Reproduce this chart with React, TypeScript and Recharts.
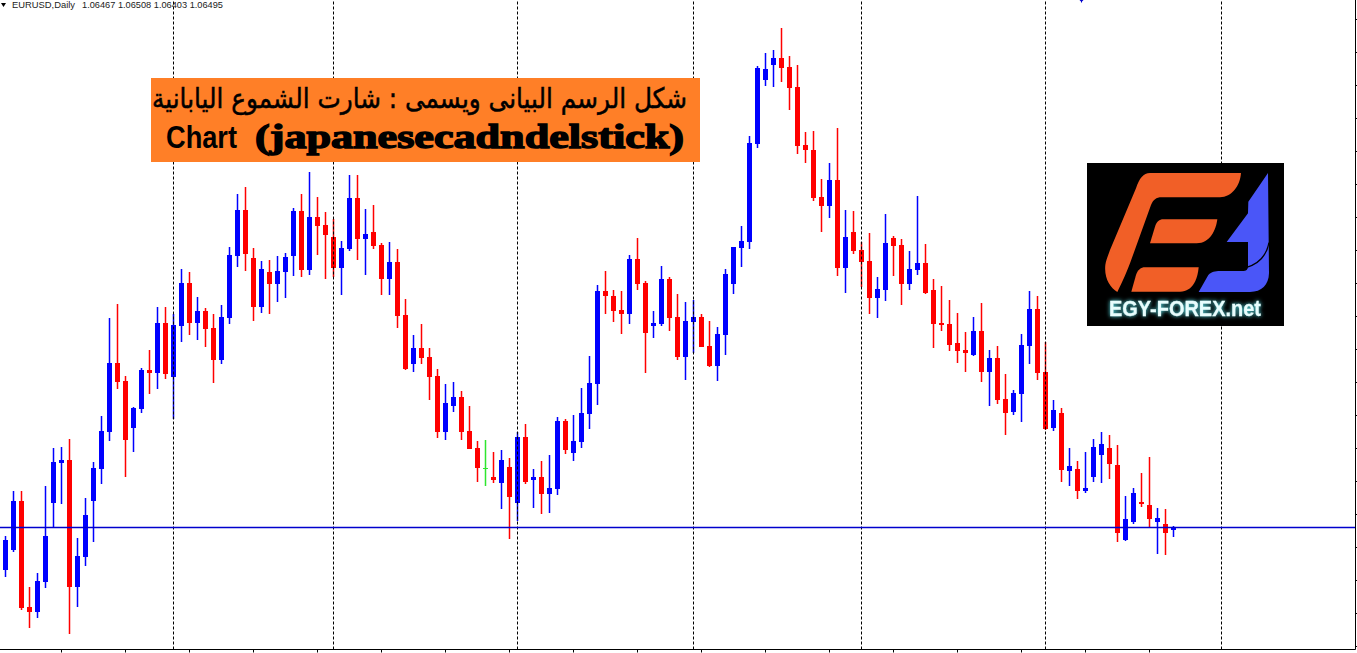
import { ComposedChart, Bar, XAxis, YAxis, ReferenceLine } from "recharts";

const opens = [
  1.0607, 1.0627, 1.0676, 1.0570, 1.0565, 1.0595, 1.0674, 1.0714, 1.0717, 1.0590,
  1.0620, 1.0676, 1.0708, 1.0745, 1.0814, 1.0796, 1.0749, 1.0768, 1.0807, 1.0804,
  1.0854, 1.0800, 1.0851, 1.0894, 1.0854, 1.0866, 1.0849, 1.0817, 1.0859, 1.0921,
  1.0967, 1.0919, 1.0870, 1.0905, 1.0893, 1.0905, 1.0921, 1.0966, 1.0907, 1.0960,
  1.0952, 1.0940, 1.0909, 1.0928, 1.0979, 1.0938, 1.0945, 1.0932, 1.0898, 1.0915,
  1.0862, 1.0813, 1.0829, 1.0820, 1.0801, 1.0745, 1.0771, 1.0780, 1.0746, 1.0729,
  1.0709, 1.0700, 1.0694, 1.0710, 1.0674, 1.0740, 1.0697, 1.0700, 1.0683, 1.0688,
  1.0756, 1.0724, 1.0735, 1.0763, 1.0793, 1.0886, 1.0881, 1.0867, 1.0863, 1.0918,
  1.0894, 1.0851, 1.0853, 1.0898, 1.0860, 1.0820, 1.0855, 1.0860, 1.0831, 1.0811,
  1.0842, 1.0893, 1.0929, 1.0935, 1.1033, 1.1097, 1.1112, 1.1119, 1.1110, 1.1090,
  1.1032, 1.1027, 1.0980, 1.0971, 1.0997, 1.0909, 1.0945, 1.0927, 1.0916, 1.0879,
  1.0887, 1.0939, 1.0932, 1.0893, 1.0907, 1.0914, 1.0887, 1.0854, 1.0853, 1.0834,
  1.0827, 1.0822, 1.0846, 1.0805, 1.0819, 1.0778, 1.0765, 1.0783, 1.0831, 1.0868,
  1.0805, 1.0749, 1.0764, 1.0706, 1.0708, 1.0686, 1.0700, 1.0722, 1.0729, 1.0712,
  1.0637, 1.0655, 1.0675, 1.0672, 1.0655, 1.0653, 1.06467,
];

const highs = [
  1.0641, 1.0686, 1.0686, 1.0590, 1.0604, 1.0691, 1.0729, 1.0730, 1.0738, 1.0639,
  1.0679, 1.0715, 1.0761, 1.0859, 1.0873, 1.0801, 1.0770, 1.0809, 1.0827, 1.0870,
  1.0870, 1.0863, 1.0908, 1.0905, 1.0880, 1.0869, 1.0863, 1.0872, 1.0930, 1.0983,
  1.0990, 1.0929, 1.0916, 1.0917, 1.0921, 1.0924, 1.0969, 1.0983, 1.1005, 1.0980,
  1.0965, 1.0958, 1.0936, 1.1002, 1.1002, 1.0968, 1.0972, 1.0934, 1.0935, 1.0928,
  1.0878, 1.0842, 1.0853, 1.0829, 1.0808, 1.0793, 1.0795, 1.0786, 1.0771, 1.0736,
  1.0737, 1.0725, 1.0727, 1.0719, 1.0745, 1.0753, 1.0708, 1.0716, 1.0722, 1.0760,
  1.0758, 1.0762, 1.0789, 1.0821, 1.0892, 1.0906, 1.0887, 1.0886, 1.0922, 1.0939,
  1.0896, 1.0866, 1.0911, 1.0900, 1.0883, 1.0875, 1.0877, 1.0863, 1.0856, 1.0850,
  1.0908, 1.0930, 1.0951, 1.1041, 1.1111, 1.1124, 1.1127, 1.1149, 1.1121, 1.1112,
  1.1045, 1.1046, 1.0998, 1.1014, 1.1049, 1.0967, 1.0966, 1.0935, 1.0944, 1.0900,
  1.0963, 1.0941, 1.0938, 1.0926, 1.0981, 1.0933, 1.0898, 1.0891, 1.0877, 1.0864,
  1.0845, 1.0860, 1.0874, 1.0827, 1.0831, 1.0803, 1.0787, 1.0843, 1.0886, 1.0881,
  1.0835, 1.0777, 1.0769, 1.0729, 1.0716, 1.0725, 1.0738, 1.0745, 1.0742, 1.0732,
  1.0681, 1.0689, 1.0704, 1.0720, 1.0669, 1.0668, 1.06508,
];

const lows = [
  1.0600, 1.0625, 1.0567, 1.0549, 1.0559, 1.0589, 1.0650, 1.0673, 1.0543, 1.0570,
  1.0611, 1.0635, 1.0693, 1.0736, 1.0788, 1.0700, 1.0725, 1.0764, 1.0783, 1.0788,
  1.0798, 1.0758, 1.0835, 1.0842, 1.0837, 1.0830, 1.0794, 1.0813, 1.0853, 1.0910,
  1.0906, 1.0856, 1.0864, 1.0863, 1.0875, 1.0879, 1.0901, 1.0900, 1.0902, 1.0922,
  1.0898, 1.0900, 1.0882, 1.0926, 1.0917, 1.0902, 1.0928, 1.0882, 1.0882, 1.0849,
  1.0807, 1.0805, 1.0813, 1.0777, 1.0739, 1.0737, 1.0765, 1.0737, 1.0728, 1.0695,
  1.0691, 1.0694, 1.0668, 1.0638, 1.0656, 1.0693, 1.0669, 1.0663, 1.0664, 1.0682,
  1.0723, 1.0716, 1.0729, 1.0748, 1.0772, 1.0863, 1.0855, 1.0843, 1.0853, 1.0887,
  1.0804, 1.0839, 1.0851, 1.0846, 1.0817, 1.0797, 1.0824, 1.0830, 1.0810, 1.0796,
  1.0822, 1.0883, 1.0910, 1.0928, 1.1029, 1.1091, 1.1090, 1.1095, 1.1067, 1.1023,
  1.1014, 1.0976, 1.0945, 1.0959, 1.0901, 1.0884, 1.0923, 1.0890, 1.0863, 1.0859,
  1.0876, 1.0901, 1.0872, 1.0887, 1.0902, 1.0883, 1.0829, 1.0846, 1.0826, 1.0814,
  1.0805, 1.0821, 1.0795, 1.0771, 1.0773, 1.0742, 1.0762, 1.0755, 1.0813, 1.0797,
  1.0747, 1.0746, 1.0695, 1.0691, 1.0678, 1.0684, 1.0695, 1.0694, 1.0698, 1.0635,
  1.0636, 1.0653, 1.0670, 1.0649, 1.0623, 1.0622, 1.06403,
];

const closes = [
  1.0637, 1.0676, 1.0569, 1.0565, 1.0596, 1.0641, 1.0715, 1.0717, 1.0590, 1.0621,
  1.0662, 1.0709, 1.0746, 1.0814, 1.0795, 1.0737, 1.0769, 1.0807, 1.0804, 1.0854,
  1.0803, 1.0852, 1.0894, 1.0854, 1.0866, 1.0848, 1.0817, 1.0860, 1.0922, 1.0967,
  1.0923, 1.0870, 1.0908, 1.0893, 1.0906, 1.0920, 1.0966, 1.0907, 1.0960, 1.0951,
  1.0942, 1.0909, 1.0929, 1.0979, 1.0938, 1.0943, 1.0931, 1.0898, 1.0915, 1.0861,
  1.0808, 1.0829, 1.0819, 1.0800, 1.0745, 1.0774, 1.0780, 1.0745, 1.0728, 1.0709,
  1.0709, 1.0697, 1.0717, 1.0680, 1.0740, 1.0695, 1.0700, 1.0683, 1.0689, 1.0756,
  1.0727, 1.0736, 1.0764, 1.0794, 1.0886, 1.0881, 1.0866, 1.0863, 1.0918, 1.0893,
  1.0844, 1.0854, 1.0898, 1.0859, 1.0820, 1.0856, 1.0860, 1.0830, 1.0811, 1.0843,
  1.0903, 1.0930, 1.0936, 1.1034, 1.1109, 1.1108, 1.1119, 1.1109, 1.1089, 1.1031,
  1.1027, 1.0979, 1.0971, 1.0997, 1.0909, 1.0940, 1.0926, 1.0915, 1.0879, 1.0888,
  1.0934, 1.0931, 1.0893, 1.0908, 1.0914, 1.0884, 1.0853, 1.0852, 1.0832, 1.0826,
  1.0824, 1.0846, 1.0805, 1.0819, 1.0777, 1.0764, 1.0784, 1.0832, 1.0868, 1.0804,
  1.0748, 1.0767, 1.0707, 1.0711, 1.0686, 1.0689, 1.0730, 1.0733, 1.0713, 1.0644,
  1.0658, 1.0684, 1.0673, 1.0658, 1.0659, 1.0644, 1.06495,
];

// bars where the terminal draws a month separator
const monthStarts = [21, 41, 64, 86, 107, 130, 152];

// time scale tick marks, one every 8 bars
const timeTicks = [
  7, 15, 23, 31, 39, 47, 55, 63, 71, 79, 87, 95, 103, 111, 119, 127, 135, 143,
];

const priceTicks = [
  1.11575, 1.11245, 1.10915, 1.10585, 1.10255, 1.09925, 1.09595, 1.09265, 1.08935, 1.08605,
  1.08275, 1.07945, 1.07615, 1.07285, 1.06955, 1.06625, 1.06295, 1.05965, 1.05635, 1.05305,
];

const lastPrice = 1.06495;
const totalBars = 169; // includes the empty bars right of the last candle

const rows = Array.from({ length: totalBars }, (_, i) =>
  i < opens.length
    ? { bar: i, open: opens[i], high: highs[i], low: lows[i], close: closes[i], range: [lows[i], highs[i]] }
    : { bar: i }
);

const Candle = (props: any) => {
  const { x, y, width, height, payload } = props;
  if (payload.high == null) return null;
  const { open, high, low, close } = payload;
  const k = height / (high - low);
  const color = close > open ? "#0000ff" : close < open ? "#ff0000" : "#2ee62e";
  const bodyTop = Math.round(y + (high - Math.max(open, close)) * k);
  const bodyHeight = Math.max(Math.round(Math.abs(open - close) * k), 1);
  const left = Math.round(x) - 1; // bar offset lands a pixel right of the separators
  return (
    <g>
      <rect x={left + 1.75} y={Math.round(y)} width={1.5} height={Math.round(height)} fill={color} />
      <rect x={left} y={bodyTop} width={width} height={bodyHeight} fill={color} />
    </g>
  );
};

const NoLabel = () => <g />;

const Overlay = () => (
  <svg width={1357} height={653} style={{ position: "absolute", left: 0, top: 0 }}>
    {/* symbol header */}
    <path d="M1,3 L6,3 L3.5,7 Z" fill="#000" />
    <text x={12} y={8} fontFamily="Liberation Sans" fontSize={8.5} fill="#222" textLength={63} lengthAdjust="spacingAndGlyphs">
      EURUSD,Daily
    </text>
    <text x={82} y={8} fontFamily="Liberation Sans" fontSize={8.5} fill="#222" textLength={141} lengthAdjust="spacingAndGlyphs">
      1.06467 1.06508 1.06403 1.06495
    </text>
    <path d="M1079.5,0 L1083.5,0 L1082,1.5 L1082,2.5 L1081,2.5 L1081,1.5 Z" fill="#0000cc" />

    {/* title box */}
    <rect x={151} y={78} width={549} height={84} fill="#ff7f27" />
    <text x={152} y={108} fontFamily="DejaVu Sans" fontSize={28} fill="#000" stroke="#000" strokeWidth={0.5} textLength={535} lengthAdjust="spacingAndGlyphs">
      شكل الرسم البيانى ويسمى : شارت الشموع اليابانية
    </text>
    <text x={166} y={148} fontFamily="Liberation Sans Narrow, Liberation Sans" fontWeight={700} fontSize={31} fill="#000" textLength={71} lengthAdjust="spacingAndGlyphs">
      Chart
    </text>
    <text x={255} y={148} fontFamily="Liberation Serif" fontWeight={700} fontSize={33} fill="#000" stroke="#000" strokeWidth={1.4} textLength={429} lengthAdjust="spacingAndGlyphs">
      (japanesecadndelstick)
    </text>

    {/* logo */}
    <rect x={1087} y={163} width={197} height={163} fill="#000" />
    <g transform="translate(1030,0) scale(0.33333)">
      <path
        d="M360,519 L633,519 C630,560 605,590 570,592 L395,592 C378,592 370,600 363,615 L300,790 C285,830 270,860 262,876 C240,862 222,835 226,795 C228,780 235,765 240,750 L318,565 C328,535 340,519 360,519 Z"
        fill="#f15f27"
      />
      <path d="M400,658 L562,658 C558,690 540,730 500,730 L360,730 L375,680 C380,665 388,658 400,658 Z" fill="#f15f27" />
      <path d="M345,802 L506,802 C503,835 490,875 450,875 L304,875 L318,825 C323,810 333,802 345,802 Z" fill="#f15f27" />
      <path
        d="M714,519 L717,820 C716,855 695,876 660,876 L506,876 L535,825 C545,815 555,813 570,813 L640,813 C648,813 654,808 654,800 L654,726 L590,726 L654,640 L655,605 Z"
        fill="#4a56f8"
      />
      <path d="M717,728 C710,765 690,790 650,802" fill="none" stroke="#000" strokeWidth={4} />
    </g>
    <text
      x={1109}
      y={316}
      fontFamily="Liberation Sans"
      fontWeight={700}
      fontSize={22}
      fill="#e8fdfd"
      stroke="#e8fdfd"
      strokeWidth={0.3}
      textLength={152}
      lengthAdjust="spacingAndGlyphs"
      style={{ filter: "drop-shadow(0 0 2px #58e0e8)" }}
    >
      EGY-FOREX.net
    </text>
  </svg>
);

export default function App() {
  return (
    <div style={{ position: "absolute", left: 0, top: 0, width: 1357, height: 653, background: "#fff", overflow: "hidden" }}>
      <ComposedChart width={1357} height={653} data={rows} margin={{ top: 0, right: 0, bottom: 0, left: 0 }}>
        <XAxis
          dataKey="bar"
          height={3.5}
          ticks={timeTicks}
          interval={0}
          tick={NoLabel}
          tickSize={3}
          padding={{ left: 1.5, right: 2 }}
          stroke="#000"
        />
        <YAxis
          orientation="right"
          width={1.5}
          domain={[1.05275, 1.1177]}
          ticks={priceTicks}
          interval={0}
          tick={NoLabel}
          tickSize={2}
          stroke="#000"
        />
        {monthStarts.map((m) => (
          <ReferenceLine key={m} x={m} stroke="#000" strokeDasharray="3 2" />
        ))}
        <ReferenceLine y={lastPrice} stroke="#0000cd" strokeWidth={1.5} />
        <Bar dataKey="range" barSize={5} shape={Candle} isAnimationActive={false} />
      </ComposedChart>
      <Overlay />
    </div>
  );
}
